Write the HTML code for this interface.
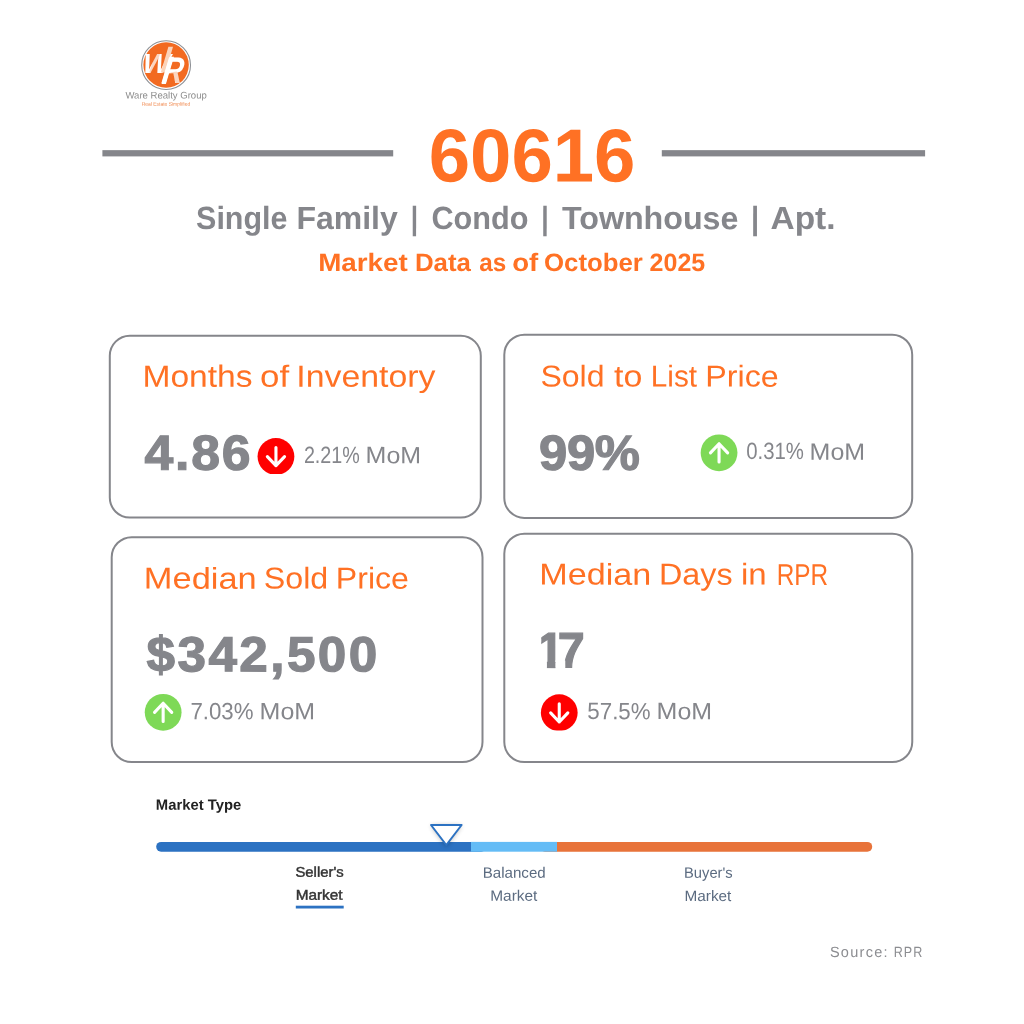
<!DOCTYPE html>
<html lang="en"><head><meta charset="utf-8"><title>60616 Market Data</title>
<style>
html,body{margin:0;padding:0;background:#fff}
body{width:1024px;height:1024px;position:relative;overflow:hidden;font-family:"Liberation Sans",sans-serif}
.g{margin:0;padding:0}
.t{display:block;position:absolute;left:0;top:0;white-space:pre;line-height:1;transform-origin:0 0;font-family:"Liberation Sans",sans-serif}
.art{position:absolute;left:0;top:0;display:block}
</style></head><body>
<svg class="art" width="1024" height="1024" viewBox="0 0 1024 1024">
<defs>
<filter id="sh" x="-50%" y="-50%" width="200%" height="200%"><feGaussianBlur stdDeviation="2.8"/></filter>
<clipPath id="cb"><rect x="-20" y="-20" width="40" height="37.65"/></clipPath>
</defs>
<g transform="translate(166.1,65)">
<circle cx="0" cy="0.15" r="24.4" fill="#fff" stroke="#8d9095" stroke-width="1.1"/>
<circle cx="0" cy="0" r="22.7" fill="#f26a21"/>
<g font-family="Liberation Sans, sans-serif" font-weight="700" font-style="italic" fill="#fff">
<text transform="translate(-24.2,7.5) skewX(-5) scale(1.05,1)" font-size="27.5">W</text>
<polygon points="-16.8,7.6 -12.0,7.6 -5.6,-12.8 -10.4,-12.8" fill="#f26a21" opacity="0.28"/>
<polygon points="2.3,-18.2 6.9,-18.2 -0.6,7.6 -5.3,7.6" fill="#fbd3ba"/>
<polygon points="3.56,-8.3 7.93,-8.3 -0.2,19 -4.59,19" fill="#fff"/>
<text transform="translate(-5.0,17.9) skewX(-8.3) scale(0.78,1)" font-size="37">R</text>
<polygon points="4.2,7.6 10.6,6.4 17.5,15.5 10.5,19.5" fill="#f26a21" opacity="0.28"/>
</g>
</g>
<g fill="#85868b"><rect x="102.4" y="150.15" width="290.8" height="6.25"/><rect x="661.8" y="150.15" width="263.3" height="6.25"/></g>
<g fill="#fff" stroke="#85868b" stroke-width="2">
<rect x="109.80" y="335.80" width="371.00" height="181.80" rx="20" ry="20"/>
<rect x="504.30" y="334.70" width="407.90" height="183.20" rx="20" ry="20"/>
<rect x="111.70" y="537.20" width="370.80" height="224.85" rx="20" ry="20"/>
<rect x="504.30" y="533.70" width="407.95" height="228.35" rx="20" ry="20"/>
</g>
<g transform="translate(275.95,456.45)"><circle r="18.4" fill="#ff0000" clip-path="url(#cb)"/><path d="M0 -9.0V9.2M-8.6 0.15L0 9.2L8.6 0.15" fill="none" stroke="#fff" stroke-width="3.1" stroke-linecap="round" stroke-linejoin="round"/></g>
<g transform="translate(719.05,452.85)"><circle r="18.4" fill="#7ed957"/><path d="M0 9.15V-9.15M-8.6 0L0 -9.15L8.6 0" fill="none" stroke="#fff" stroke-width="3.1" stroke-linecap="round" stroke-linejoin="round"/></g>
<g transform="translate(163.15,712.35)"><circle r="18.4" fill="#7ed957"/><path d="M0 9.15V-9.15M-8.6 0L0 -9.15L8.6 0" fill="none" stroke="#fff" stroke-width="3.1" stroke-linecap="round" stroke-linejoin="round"/></g>
<g transform="translate(559.25,712.75)"><circle r="18.4" fill="#ff0000" clip-path="url(#cb)"/><path d="M0 -9.0V9.2M-8.6 0.15L0 9.2L8.6 0.15" fill="none" stroke="#fff" stroke-width="3.1" stroke-linecap="round" stroke-linejoin="round"/></g>
<rect x="156.2" y="841.9" width="330" height="9.8" rx="4.9" fill="#2c72c2"/>
<rect x="540" y="841.9" width="332.2" height="9.8" rx="4.9" fill="#e8733a"/>
<rect x="471" y="841.9" width="86" height="9.8" fill="#64bcf6"/>
<rect x="295.8" y="905.7" width="47.9" height="2.8" fill="#2c72c2"/>
<path d="M431 825H461.6L446.3 846Z" fill="#000" opacity="0.3" filter="url(#sh)" transform="translate(0,0.5)"/>
<path d="M431 825H461.6L446.3 845Z" fill="#fff" stroke="#2c72c2" stroke-width="2" stroke-linejoin="round"/>
</svg>
<div class="g"><span class="t" id="zip" style="font-size:75.21px;font-weight:700;color:#ff7124;transform:translate(428.77px,118.43px) rotate(0.03deg) scaleX(0.988);">60616</span></div>
<div class="g"><span class="t" id="sub0" style="font-size:32.09px;font-weight:700;color:#85868b;transform:translate(196.13px,202.06px) rotate(0.03deg) scaleX(0.9478);">Single</span> <span class="t" id="sub1" style="font-size:32.09px;font-weight:700;color:#85868b;transform:translate(296.41px,202.06px) rotate(0.03deg) scaleX(0.9972);">Family</span> <span class="t" id="sub2" style="font-size:32.09px;font-weight:700;color:#85868b;transform:translate(410.83px,202.2px) rotate(0.03deg) scaleX(0.8161);">|</span> <span class="t" id="sub3" style="font-size:32.09px;font-weight:700;color:#85868b;transform:translate(431.51px,202.06px) rotate(0.03deg) scaleX(0.9549);">Condo</span> <span class="t" id="sub4" style="font-size:32.09px;font-weight:700;color:#85868b;transform:translate(541.22px,202.2px) rotate(0.03deg) scaleX(0.826);">|</span> <span class="t" id="sub5" style="font-size:32.09px;font-weight:700;color:#85868b;transform:translate(561.94px,202.06px) rotate(0.03deg) scaleX(1.004);">Townhouse</span> <span class="t" id="sub6" style="font-size:32.09px;font-weight:700;color:#85868b;transform:translate(751.07px,202.2px) rotate(0.03deg) scaleX(0.9041);">|</span> <span class="t" id="sub7" style="font-size:32.09px;font-weight:700;color:#85868b;transform:translate(770.53px,202.06px) rotate(0.03deg) scaleX(1.042);">Apt.</span></div>
<div class="g"><span class="t" id="date0" style="font-size:25.07px;font-weight:700;color:#ff7124;transform:translate(318.15px,249.88px) rotate(0.03deg) scaleX(1.1085);">Market</span> <span class="t" id="date1" style="font-size:25.07px;font-weight:700;color:#ff7124;transform:translate(414.9px,249.88px) rotate(0.03deg) scaleX(1.03);">Data</span> <span class="t" id="date2" style="font-size:25.07px;font-weight:700;color:#ff7124;transform:translate(479.27px,249.88px) rotate(0.03deg) scaleX(0.967);">as</span> <span class="t" id="date3" style="font-size:25.07px;font-weight:700;color:#ff7124;transform:translate(512.29px,249.88px) rotate(0.03deg) scaleX(1.1002);">of</span> <span class="t" id="date4" style="font-size:25.07px;font-weight:700;color:#ff7124;transform:translate(543.98px,249.88px) rotate(0.03deg) scaleX(1.0297);">October</span> <span class="t" id="date5" style="font-size:25.07px;font-weight:700;color:#ff7124;transform:translate(649.63px,249.88px) rotate(0.03deg) scaleX(0.9962);">2025</span></div>
<div class="g"><span class="t" id="ta0" style="font-size:30.58px;font-weight:400;color:#ff7124;transform:translate(142.48px,360.76px) rotate(0.03deg) scaleX(1.0972);">Months</span> <span class="t" id="ta1" style="font-size:30.58px;font-weight:400;color:#ff7124;transform:translate(260.12px,360.76px) rotate(0.03deg) scaleX(1.1406);">of</span> <span class="t" id="ta2" style="font-size:30.58px;font-weight:400;color:#ff7124;transform:translate(296.36px,360.76px) rotate(0.03deg) scaleX(1.1065);">Inventory</span></div>
<div class="g"><span class="t" id="tb0" style="font-size:30.14px;font-weight:400;color:#ff7124;transform:translate(540.44px,361.6px) rotate(0.03deg) scaleX(1.0631);">Sold</span> <span class="t" id="tb1" style="font-size:30.14px;font-weight:400;color:#ff7124;transform:translate(614.0px,361.6px) rotate(0.03deg) scaleX(1.1267);">to</span> <span class="t" id="tb2" style="font-size:30.14px;font-weight:400;color:#ff7124;transform:translate(650.82px,361.6px) rotate(0.03deg) scaleX(0.9864);">List</span> <span class="t" id="tb3" style="font-size:30.14px;font-weight:400;color:#ff7124;transform:translate(705.35px,361.6px) rotate(0.03deg) scaleX(1.0682);">Price</span></div>
<div class="g"><span class="t" id="tc0" style="font-size:30.14px;font-weight:400;color:#ff7124;transform:translate(143.88px,563.6px) rotate(0.03deg) scaleX(1.142);">Median</span> <span class="t" id="tc1" style="font-size:30.14px;font-weight:400;color:#ff7124;transform:translate(263.82px,563.6px) rotate(0.03deg) scaleX(1.0693);">Sold</span> <span class="t" id="tc2" style="font-size:30.14px;font-weight:400;color:#ff7124;transform:translate(335.88px,563.6px) rotate(0.03deg) scaleX(1.0648);">Price</span></div>
<div class="g"><span class="t" id="td0" style="font-size:30.14px;font-weight:400;color:#ff7124;transform:translate(539.22px,559.6px) rotate(0.03deg) scaleX(1.1337);">Median</span> <span class="t" id="td1" style="font-size:30.14px;font-weight:400;color:#ff7124;transform:translate(659.02px,559.6px) rotate(0.03deg) scaleX(1.071);">Days</span> <span class="t" id="td2" style="font-size:30.14px;font-weight:400;color:#ff7124;transform:translate(740.92px,559.6px) rotate(0.03deg) scaleX(1.0955);">in</span> <span class="t" id="td3" style="font-size:30.14px;font-weight:400;color:#ff7124;transform:translate(776.67px,559.6px) rotate(0.03deg) scaleX(0.8084);">RPR</span></div>
<div class="g"><span class="t" id="va0" style="font-size:49.28px;font-weight:700;color:#85868b;transform:translate(144.53px,427.65px) rotate(0.03deg) scaleX(1.05);letter-spacing:1.714px;-webkit-text-stroke:1.2px #85868b;">4.86</span></div>
<div class="g"><span class="t" id="vb0" style="font-size:49.28px;font-weight:700;color:#85868b;transform:translate(539.05px,427.65px) rotate(0.03deg) scaleX(1.03);letter-spacing:-0.334px;-webkit-text-stroke:1.2px #85868b;">99%</span></div>
<div class="g"><span class="t" id="vc0" style="font-size:49.28px;font-weight:700;color:#85868b;transform:translate(146.55px,629.15px) rotate(0.03deg) scaleX(1.04);letter-spacing:2.344px;-webkit-text-stroke:1.2px #85868b;">$342,500</span></div>
<div class="g"><span class="t" id="vd0" style="font-size:49.97px;font-weight:700;color:#85868b;transform:translate(536.76px,626.55px) rotate(0.03deg) scaleX(0.97);letter-spacing:-6.014px;-webkit-text-stroke:1.2px #85868b;clip-path:polygon(4.68px -5.00px,90.00px -5.00px,90.00px 54.97px,29.55px 54.97px,29.55px 33.98px,19.21px 33.98px,19.21px 54.97px,10.51px 54.97px,10.51px 27.48px,4.68px 27.48px);">17</span></div>
<div class="g"><span class="t" id="ma0" style="font-size:23.48px;font-weight:400;color:#85868b;transform:translate(303.92px,443.96px) rotate(0.03deg) scaleX(0.8399);">2.21%</span> <span class="t" id="ma1" style="font-size:23.48px;font-weight:400;color:#85868b;transform:translate(365.59px,444.12px) rotate(0.03deg) scaleX(1.0645);">MoM</span></div>
<div class="g"><span class="t" id="mb0" style="font-size:23.48px;font-weight:400;color:#85868b;transform:translate(746.19px,440.46px) rotate(0.03deg) scaleX(0.8668);">0.31%</span> <span class="t" id="mb1" style="font-size:23.48px;font-weight:400;color:#85868b;transform:translate(809.59px,440.82px) rotate(0.03deg) scaleX(1.0645);">MoM</span></div>
<div class="g"><span class="t" id="mc0" style="font-size:23.48px;font-weight:400;color:#85868b;transform:translate(190.42px,700.26px) rotate(0.03deg) scaleX(0.9483);">7.03%</span> <span class="t" id="mc1" style="font-size:23.48px;font-weight:400;color:#85868b;transform:translate(259.59px,700.26px) rotate(0.03deg) scaleX(1.0645);">MoM</span></div>
<div class="g"><span class="t" id="md0" style="font-size:23.48px;font-weight:400;color:#85868b;transform:translate(587.37px,700.12px) rotate(0.03deg) scaleX(0.95);">57.5%</span> <span class="t" id="md1" style="font-size:23.48px;font-weight:400;color:#85868b;transform:translate(656.59px,700.12px) rotate(0.03deg) scaleX(1.0645);">MoM</span></div>
<div class="g"><span class="t" id="mt" style="font-size:14.78px;font-weight:700;color:#222;transform:translate(155.86px,797.64px) rotate(0.03deg) scaleX(1.0032);">Market Type</span></div>
<div class="g"><span class="t" id="s1" style="font-size:14.15px;font-weight:400;color:#333;transform:translate(295.49px,864.63px) rotate(0.03deg) scaleX(1.0482);-webkit-text-stroke:0.45px #333;">Seller's</span> <span class="t" id="s2" style="font-size:14.28px;font-weight:400;color:#333;transform:translate(295.71px,887.7px) rotate(0.03deg) scaleX(1.075);-webkit-text-stroke:0.45px #333;">Market</span></div>
<div class="g"><span class="t" id="b1" style="font-size:15.07px;font-weight:400;color:#5b6b80;transform:translate(482.78px,864.8px) rotate(0.03deg) scaleX(1.0019);">Balanced</span> <span class="t" id="b2" style="font-size:15.07px;font-weight:400;color:#5b6b80;transform:translate(490.21px,887.84px) rotate(0.03deg) scaleX(1.0246);">Market</span></div>
<div class="g"><span class="t" id="y1" style="font-size:15.07px;font-weight:400;color:#5b6b80;transform:translate(684.02px,864.8px) rotate(0.03deg) scaleX(0.9786);">Buyer's</span> <span class="t" id="y2" style="font-size:15.07px;font-weight:400;color:#5b6b80;transform:translate(684.49px,887.94px) rotate(0.03deg) scaleX(1.0175);">Market</span></div>
<div class="g"><span class="t" id="src0" style="font-size:14.87px;font-weight:400;color:#8c8d91;transform:translate(829.9px,945.02px) rotate(0.03deg) scaleX(0.9772);letter-spacing:1.3px;">Source:</span> <span class="t" id="src1" style="font-size:14.87px;font-weight:400;color:#8c8d91;transform:translate(893.66px,944.66px) rotate(0.03deg) scaleX(0.8442);letter-spacing:1.3px;">RPR</span></div>
<div class="g"><span class="t" id="lg1" style="font-size:9.64px;font-weight:400;color:#8c8c8c;transform:translate(125.46px,90.46px) rotate(0.03deg) scaleX(0.9913);">Ware Realty Group</span> <span class="t" id="lg2" style="font-size:5.2px;font-weight:400;color:#f08a50;transform:translate(141.65px,101.7px) rotate(0.03deg) scaleX(0.9557);">Real Estate Simplified</span></div>
</body></html>
